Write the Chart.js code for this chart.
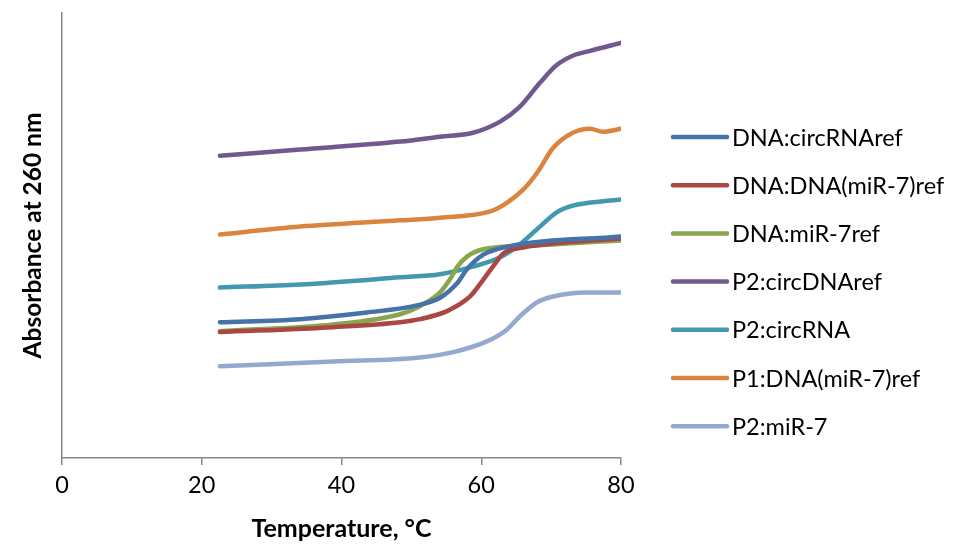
<!DOCTYPE html>
<html>
<head>
<meta charset="utf-8">
<script src="https://cdn.jsdelivr.net/npm/chart.js@4"></script>
<style>
  html, body { margin: 0; padding: 0; background: #fff; }
  #wrap { width: 969px; height: 546px; }
</style>
</head>
<body>
<div id="wrap"><canvas id="meltChart" width="969" height="546"></canvas></div>
<script>
// melting curves (temperature in C, absorbance in arbitrary units)
const seriesNames = ["DNA:circRNAref", "DNA:DNA(miR-7)ref", "DNA:miR-7ref", "P2:circDNAref", "P2:circRNA", "P1:DNA(miR-7)ref", "P2:miR-7"];
const seriesColors = ["#4572a7", "#aa4643", "#89a54e", "#71588f", "#4198af", "#db843d", "#93a9cf"];

const tDnaCircRNA = [22.6, 34.1, 43.6, 50.8, 54.1, 56.5, 58.0, 60.3, 63.7, 80];
const aDnaCircRNA = [0.305, 0.312, 0.327, 0.343, 0.360, 0.392, 0.425, 0.457, 0.475, 0.498];

const tDnaDna = [22.6, 38.8, 48.4, 51.2, 55.1, 58.4, 60.3, 61.8, 63.2, 66.0, 80];
const aDnaDna = [0.283, 0.294, 0.305, 0.312, 0.330, 0.363, 0.401, 0.433, 0.460, 0.473, 0.493];

const tDnaMiR = [22.6, 38.8, 48.4, 51.2, 54.1, 55.5, 56.5, 58.0, 60.3, 66.0, 80];
const aDnaMiR = [0.285, 0.300, 0.323, 0.341, 0.372, 0.401, 0.428, 0.453, 0.469, 0.476, 0.489];

const tP2CircDNA = [22.6, 34.1, 48.4, 54.1, 58.8, 62.7, 65.5, 68.4, 70.8, 73.1, 75.6, 80];
const aP2CircDNA = [0.679, 0.693, 0.711, 0.722, 0.731, 0.756, 0.789, 0.843, 0.883, 0.904, 0.915, 0.933];

const tP2CircRNA = [22.6, 34.1, 48.4, 54.1, 58.8, 62.7, 65.5, 68.4, 70.8, 73.1, 75.6, 80];
const aP2CircRNA = [0.383, 0.390, 0.406, 0.413, 0.430, 0.451, 0.480, 0.520, 0.552, 0.567, 0.574, 0.581];

const tP1Dna = [22.6, 34.1, 48.4, 54.1, 61.3, 63.7, 66.0, 68.0, 70.3, 73.1, 75.6, 77.4, 80];
const aP1Dna = [0.502, 0.520, 0.534, 0.540, 0.554, 0.574, 0.603, 0.641, 0.697, 0.731, 0.740, 0.733, 0.740];

const tP2MiR = [22.6, 38.8, 51.2, 56.0, 60.8, 63.7, 65.5, 68.0, 70.3, 75.1, 80];
const aP2MiR = [0.206, 0.217, 0.226, 0.238, 0.262, 0.289, 0.318, 0.350, 0.363, 0.372, 0.372];

const xTicks = [0, 20, 40, 60, 80];

const temps = [tDnaCircRNA, tDnaDna, tDnaMiR, tP2CircDNA, tP2CircRNA, tP1Dna, tP2MiR];
const absorb = [aDnaCircRNA, aDnaDna, aDnaMiR, aP2CircDNA, aP2CircRNA, aP1Dna, aP2MiR];

const FONT = "Lato, 'Open Sans', sans-serif";

const datasets = seriesNames.map((name, i) => ({
  label: name,
  data: temps[i].map((t, k) => ({ x: t, y: absorb[i][k] })),
  borderColor: seriesColors[i],
  backgroundColor: seriesColors[i],
  borderWidth: 4.5,
  pointRadius: 0,
  cubicInterpolationMode: "monotone",
  borderCapStyle: "round",
  borderJoinStyle: "round",
}));

// legend on the right, drawn by hand so the spacing matches
const sideLegend = {
  id: "sideLegend",
  afterDraw(chart) {
    const ctx = chart.ctx;
    const area = chart.chartArea;
    const x0 = area.right + 52;
    ctx.save();
    ctx.font = "23.5px " + FONT;
    ctx.textBaseline = "middle";
    chart.data.datasets.forEach((ds, i) => {
      const y = 137 + i * 48.2;
      ctx.strokeStyle = ds.borderColor;
      ctx.lineWidth = 4.5;
      ctx.lineCap = "round";
      ctx.beginPath();
      ctx.moveTo(x0, y);
      ctx.lineTo(x0 + 54, y);
      ctx.stroke();
      ctx.fillStyle = "#000";
      ctx.fillText(ds.label, x0 + 59, y + 1);
    });
    ctx.restore();
  },
};

new Chart(document.getElementById("meltChart"), {
  type: "line",
  data: { datasets },
  options: {
    responsive: false,
    animation: false,
    layout: { padding: { top: 13, right: 348, left: 0, bottom: 0 } },
    plugins: { legend: { display: false }, tooltip: { enabled: false } },
    scales: {
      x: {
        type: "linear",
        min: 0,
        max: 80,
        afterBuildTicks: (s) => { s.ticks = xTicks.map((v) => ({ value: v })); },
        afterFit: (s) => { s.height = 88; },
        grid: { drawOnChartArea: false, drawTicks: true, tickLength: 7, color: "#868686", lineWidth: 1.5 },
        border: { color: "#868686", width: 1.5 },
        ticks: { color: "#000", font: { family: FONT, size: 23.5 }, padding: 6, maxRotation: 0 },
        title: {
          display: true,
          text: "Temperature, \u00B0C",
          color: "#000",
          font: { family: FONT, size: 25, weight: "bold" },
          padding: { top: 0, bottom: 2 },
        },
      },
      y: {
        min: 0,
        max: 1,
        afterFit: (s) => { s.width = 62; },
        grid: { display: false },
        border: { color: "#868686", width: 1.5 },
        ticks: { display: false },
        title: {
          display: true,
          text: "Absorbance at 260 nm",
          color: "#000",
          font: { family: FONT, size: 24.5, weight: "bold" },
          padding: { top: 18, bottom: 0 },
        },
      },
    },
  },
  plugins: [sideLegend],
});
</script>
</body>
</html>
